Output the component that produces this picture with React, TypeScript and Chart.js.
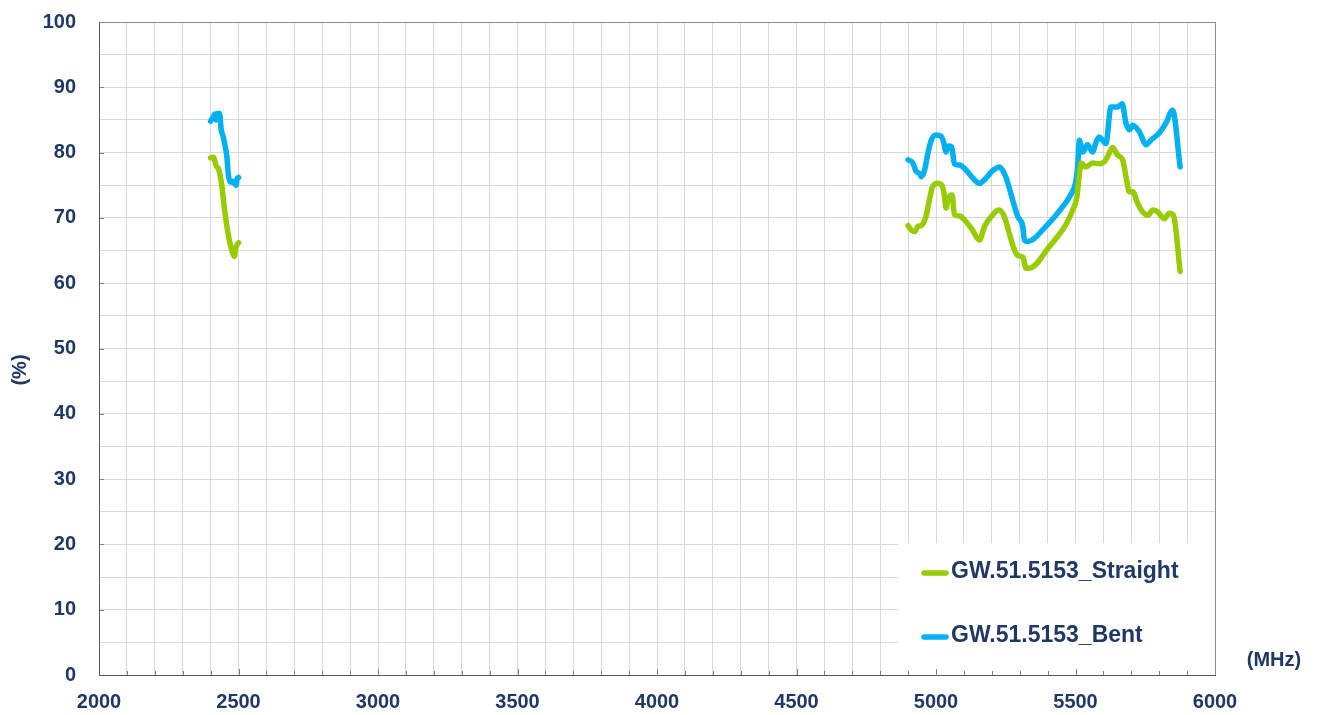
import React, { useEffect, useRef } from "react";
import Chart from "chart.js/auto";

// ---- data (MHz, %) ----
const straightFreq24 = [2400, 2410, 2420, 2430, 2440, 2450, 2460, 2470, 2480, 2485, 2490, 2500];
const straightEff24 = [79.2, 79.3, 78.0, 77.3, 75.0, 71.3, 68.3, 66.0, 64.5, 64.1, 65.4, 66.2];

const bentFreq24 = [2400, 2410, 2415, 2420, 2425, 2432, 2438, 2445, 2452, 2458, 2464, 2470, 2478, 2485, 2492, 2495, 2500];
const bentEff24 = [84.8, 85.5, 85.9, 85.0, 86.0, 86.0, 83.5, 82.5, 81.0, 79.5, 76.5, 75.5, 75.6, 75.3, 75.0, 76.0, 76.2];

const straightFreq5 = [4900, 4912, 4924, 4935, 4947, 4964, 4976, 4988, 5006, 5022, 5030, 5036, 5043, 5050, 5058, 5066, 5084, 5102, 5130, 5155, 5175, 5200, 5225, 5245, 5263, 5281, 5295, 5311, 5323, 5335, 5406, 5466, 5490, 5505, 5512, 5520, 5537, 5561, 5585, 5603, 5615, 5633, 5651, 5669, 5681, 5693, 5705, 5723, 5741, 5759, 5777, 5795, 5818, 5836, 5851, 5875];
const straightEff5 = [68.8, 68.1, 67.9, 68.7, 68.8, 70.2, 72.7, 74.8, 75.3, 74.9, 73.5, 71.5, 72.8, 73.4, 73.5, 70.5, 70.3, 69.7, 68.2, 66.6, 68.8, 70.3, 71.2, 70.2, 67.6, 65.1, 64.2, 64.0, 62.3, 62.3, 65.6, 69.0, 71.2, 73.2, 76.0, 78.4, 77.8, 78.4, 78.3, 78.6, 79.4, 80.8, 79.6, 78.9, 76.3, 74.0, 74.0, 72.2, 70.9, 70.4, 71.2, 70.9, 69.9, 70.7, 70.4, 61.8];

const bentFreq5 = [4900, 4917, 4929, 4941, 4947, 4959, 4971, 4983, 5000, 5018, 5028, 5036, 5045, 5056, 5066, 5084, 5102, 5130, 5155, 5175, 5205, 5227, 5245, 5260, 5275, 5293, 5311, 5317, 5329, 5394, 5450, 5478, 5502, 5508, 5514, 5526, 5543, 5561, 5573, 5585, 5597, 5609, 5627, 5651, 5667, 5681, 5693, 5705, 5729, 5753, 5770, 5800, 5824, 5848, 5875];
const bentEff5 = [78.9, 78.4, 77.1, 76.8, 76.3, 77.3, 79.9, 81.9, 82.7, 82.5, 81.5, 80.1, 81.0, 80.9, 78.3, 78.1, 77.6, 76.2, 75.3, 75.9, 77.3, 77.8, 76.8, 75.0, 72.7, 70.2, 68.7, 66.6, 66.4, 68.7, 71.5, 73.2, 75.8, 78.0, 81.9, 80.1, 81.2, 80.1, 81.5, 82.4, 81.9, 81.4, 87.0, 87.0, 87.5, 84.5, 83.5, 84.2, 83.2, 81.2, 81.9, 83.0, 84.5, 86.5, 77.8];

const seriesLabels = ["GW.51.5153_Straight", "GW.51.5153_Bent"];
const seriesColors = ["#99CC00", "#00B0F0"];
const xTickStep = 100;
const xLabelStep = 500;
const yTickStep = 5;
const yLabelStep = 10;

const TEXT = "#1F3864";
const FONT = "'Liberation Sans', Arial, sans-serif";

function build(f1: number[], v1: number[], f2: number[], v2: number[]) {
  const a = f1.map((x, i) => ({ x, y: v1[i] as number | null }));
  const b = f2.map((x, i) => ({ x, y: v2[i] as number | null }));
  return [...a, { x: 3700, y: null }, ...b];
}

const decor = {
  id: "decor",
  beforeDatasetsDraw(chart: any) {
    const { ctx, chartArea, scales } = chart;
    const { left, top, right, bottom } = chartArea;
    const x = scales.x;
    const y = scales.y;
    ctx.save();
    // legend background box
    ctx.fillStyle = "#ffffff";
    ctx.fillRect(898, 543, right - 898, bottom - 543);
    // inner tick marks
    ctx.strokeStyle = "#7f7f7f";
    ctx.lineWidth = 1;
    for (let v = 2000; v <= 6000; v += xTickStep) {
      const px = Math.round(x.getPixelForValue(v)) + 0.5;
      const len = v % xLabelStep === 0 ? 6 : 4;
      ctx.beginPath();
      ctx.moveTo(px, bottom);
      ctx.lineTo(px, bottom - len);
      ctx.stroke();
    }
    for (let v = 0; v <= 100; v += yLabelStep) {
      const py = Math.round(y.getPixelForValue(v)) + 0.5;
      ctx.beginPath();
      ctx.moveTo(left, py);
      ctx.lineTo(left + 5, py);
      ctx.stroke();
    }
    // frame
    ctx.strokeStyle = "#8c8c8c";
    ctx.beginPath();
    ctx.moveTo(left, Math.round(top) + 0.5);
    ctx.lineTo(right, Math.round(top) + 0.5);
    ctx.moveTo(Math.round(right) + 0.5, top);
    ctx.lineTo(Math.round(right) + 0.5, bottom);
    ctx.stroke();
    ctx.strokeStyle = "#595959";
    ctx.beginPath();
    ctx.moveTo(Math.round(left) + 0.5, top);
    ctx.lineTo(Math.round(left) + 0.5, bottom + 1);
    ctx.moveTo(left, Math.round(bottom) + 0.5);
    ctx.lineTo(right + 1, Math.round(bottom) + 0.5);
    ctx.stroke();
    ctx.restore();
  },
  afterDraw(chart: any) {
    const { ctx } = chart;
    ctx.save();
    // legend entries
    const rows = [573, 637];
    chart.data.datasets.forEach((ds: any, i: number) => {
      const yy = rows[i];
      ctx.strokeStyle = ds.borderColor;
      ctx.lineWidth = 5.5;
      ctx.lineCap = "round";
      ctx.beginPath();
      ctx.moveTo(924, yy);
      ctx.lineTo(946, yy);
      ctx.stroke();
      ctx.fillStyle = TEXT;
      ctx.font = `bold 23px ${FONT}`;
      ctx.textAlign = "left";
      ctx.textBaseline = "middle";
      ctx.fillText(ds.label, 951, yy - 1);
    });
    // axis titles
    ctx.font = `bold 20px ${FONT}`;
    ctx.fillStyle = TEXT;
    ctx.textAlign = "center";
    ctx.textBaseline = "middle";
    ctx.fillText("(MHz)", 1274, 660);
    ctx.translate(20, 370);
    ctx.rotate(-Math.PI / 2);
    ctx.fillText("(%)", 0, 0);
    ctx.restore();
  },
};

export default function App() {
  const ref = useRef<HTMLCanvasElement>(null);
  useEffect(() => {
    const chart = new Chart(ref.current as HTMLCanvasElement, {
      type: "line",
      data: {
        datasets: [
          {
            label: seriesLabels[0],
            data: build(straightFreq24, straightEff24, straightFreq5, straightEff5),
            borderColor: seriesColors[0],
            backgroundColor: seriesColors[0],
          },
          {
            label: seriesLabels[1],
            data: build(bentFreq24, bentEff24, bentFreq5, bentEff5),
            borderColor: seriesColors[1],
            backgroundColor: seriesColors[1],
          },
        ],
      },
      options: {
        responsive: false,
        animation: false,
        spanGaps: false,
        layout: { padding: { left: 0, right: 103, top: 22, bottom: 0 } },
        elements: {
          point: { radius: 0, hoverRadius: 0 },
          line: {
            borderWidth: 5.5,
            cubicInterpolationMode: "monotone",
            borderCapStyle: "round",
            borderJoinStyle: "round",
          },
        },
        plugins: { legend: { display: false }, tooltip: { enabled: false } },
        scales: {
          x: {
            type: "linear",
            min: 2000,
            max: 6000,
            afterFit: (s: any) => {
              s.height = 40;
              s.paddingLeft = 0;
              s.paddingRight = 0;
            },
            border: { display: false },
            grid: { color: "#d9d9d9", lineWidth: 1, drawTicks: false },
            ticks: {
              stepSize: xTickStep,
              maxTicksLimit: 100,
              autoSkip: false,
              maxRotation: 0,
              padding: 15,
              color: TEXT,
              font: { family: FONT, size: 20, weight: "bold" },
              callback: (v: any) => (Number(v) % xLabelStep === 0 ? String(v) : ""),
            },
          },
          y: {
            type: "linear",
            min: 0,
            max: 100,
            afterFit: (s: any) => {
              s.width = 99;
              s.paddingTop = 0;
              s.paddingBottom = 0;
            },
            border: { display: false },
            grid: { color: "#d9d9d9", lineWidth: 1, drawTicks: false },
            ticks: {
              stepSize: yTickStep,
              maxTicksLimit: 100,
              autoSkip: false,
              padding: 23,
              color: TEXT,
              font: { family: FONT, size: 20, weight: "bold" },
              callback: (v: any) => (Number(v) % yLabelStep === 0 ? String(v) : ""),
            },
          },
        },
      },
      plugins: [decor],
    } as any);
    return () => chart.destroy();
  }, []);
  return (
    <div style={{ position: "fixed", left: 0, top: 0, width: 1318, height: 715, background: "#ffffff" }}>
      <canvas ref={ref} width={1318} height={715} style={{ display: "block" }} />
    </div>
  );
}
